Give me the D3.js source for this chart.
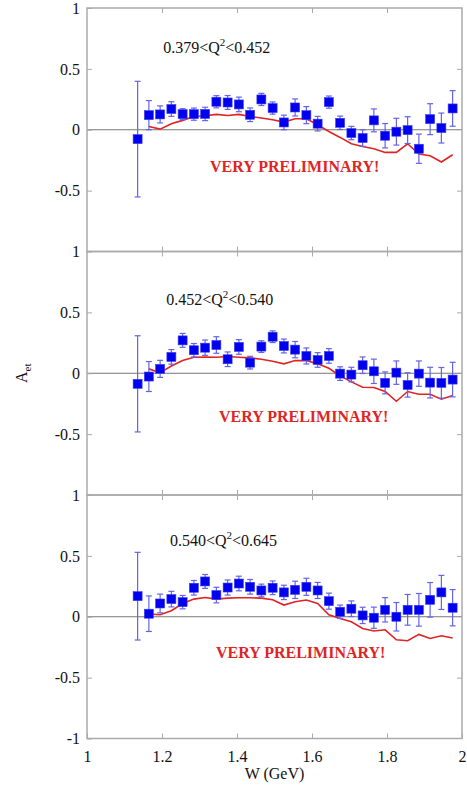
<!DOCTYPE html>
<html>
<head>
<meta charset="utf-8">
<script src="https://cdn.jsdelivr.net/npm/d3@7"></script>
<style>
  body { margin: 0; background: #fff; }
  text { font-family: "Liberation Serif", "DejaVu Serif", serif; }
</style>
</head>
<body>
<div id="chartDiv"></div>
<script>
// W bins (GeV)
var wBins = [1.135, 1.165, 1.195, 1.225, 1.255, 1.285, 1.315, 1.345, 1.375, 1.405,
             1.435, 1.465, 1.495, 1.525, 1.555, 1.585, 1.615, 1.645, 1.675, 1.705,
             1.735, 1.765, 1.795, 1.825, 1.855, 1.885, 1.915, 1.945, 1.975];
// model curve starts at the second bin
var wModel = wBins.slice(1);

var qLabels = ["0.379", "0.452", "0.540", "0.645"];

// panel 1 : 0.379 < Q2 < 0.452
var aet1 = [-0.077, 0.12, 0.126, 0.17, 0.128, 0.128, 0.13, 0.23, 0.224, 0.208,
            0.123, 0.249, 0.178, 0.06, 0.183, 0.12, 0.05, 0.227, 0.057, -0.027,
            -0.068, 0.077, -0.049, -0.016, -0.003, -0.156, 0.087, 0.014, 0.175];
var err1 = [0.475, 0.12, 0.07, 0.06, 0.045, 0.05, 0.055, 0.05, 0.057, 0.06,
            0.056, 0.05, 0.05, 0.06, 0.07, 0.07, 0.06, 0.05, 0.055, 0.055,
            0.068, 0.094, 0.1, 0.11, 0.11, 0.12, 0.127, 0.123, 0.146];
var model1 = [0.027, 0.005, 0.049, 0.077, 0.109, 0.115, 0.126, 0.117, 0.126, 0.109,
              0.096, 0.082, 0.063, 0.09, 0.09, 0.041, -0.014, -0.063, -0.115, -0.137,
              -0.156, -0.186, -0.186, -0.115, -0.2, -0.213, -0.265, -0.205];

// panel 2 : 0.452 < Q2 < 0.540
var aet2 = [-0.087, -0.027, 0.036, 0.134, 0.27, 0.189, 0.21, 0.232, 0.115, 0.216,
            0.087, 0.219, 0.3, 0.224, 0.194, 0.142, 0.109, 0.142, -0.003, -0.011,
            0.066, 0.016, -0.079, 0.005, -0.096, -0.003, -0.077, -0.079, -0.052];
var err2 = [0.395, 0.123, 0.07, 0.06, 0.057, 0.055, 0.063, 0.068, 0.06, 0.06,
            0.052, 0.048, 0.048, 0.057, 0.067, 0.066, 0.06, 0.06, 0.056, 0.06,
            0.068, 0.1, 0.09, 0.096, 0.1, 0.104, 0.126, 0.126, 0.142];
var model2 = [0.036, 0.005, 0.06, 0.104, 0.131, 0.134, 0.131, 0.137, 0.131, 0.126,
              0.115, 0.098, 0.077, 0.104, 0.104, 0.077, 0.041, -0.022, -0.071, -0.115,
              -0.117, -0.15, -0.23, -0.15, -0.172, -0.172, -0.213, -0.183];

// panel 3 : 0.540 < Q2 < 0.645
var aet3 = [0.169, 0.025, 0.109, 0.145, 0.12, 0.238, 0.29, 0.178, 0.24, 0.273,
            0.246, 0.216, 0.238, 0.2, 0.221, 0.246, 0.216, 0.128, 0.041, 0.066,
            0.011, -0.008, 0.057, 0.0, 0.057, 0.057, 0.139, 0.2, 0.074];
var err3 = [0.36, 0.146, 0.077, 0.064, 0.055, 0.06, 0.057, 0.064, 0.062, 0.06,
            0.06, 0.052, 0.056, 0.059, 0.071, 0.07, 0.066, 0.066, 0.055, 0.064,
            0.067, 0.087, 0.1, 0.117, 0.126, 0.134, 0.142, 0.14, 0.149];
var model3 = [0.022, 0.016, 0.049, 0.109, 0.145, 0.158, 0.145, 0.153, 0.156, 0.156,
              0.153, 0.139, 0.096, 0.123, 0.137, 0.109, 0.016, -0.014, -0.041, -0.096,
              -0.117, -0.107, -0.189, -0.197, -0.145, -0.178, -0.156, -0.175];

var xTicks = [1, 1.2, 1.4, 1.6, 1.8, 2];
var yTicks = [1, 0.5, 0, -0.5, -1];

var panels = [
  {aet: aet1, err: err1, model: model1, lo: qLabels[0], hi: qLabels[1], lab: [1.203, 0.63], warn: [1.328, -0.35]},
  {aet: aet2, err: err2, model: model2, lo: qLabels[1], hi: qLabels[2], lab: [1.211, 0.56], warn: [1.352, -0.40]},
  {aet: aet3, err: err3, model: model3, lo: qLabels[2], hi: qLabels[3], lab: [1.221, 0.58], warn: [1.344, -0.34]}
];

var width = 467, height = 793;
var left = 87, right = 462, top0 = 8, panelH = 243.5;

var svg = d3.select("#chartDiv")
  .append("svg")
    .attr("width", width)
    .attr("height", height);

var xScale = d3.scaleLinear().domain([1, 2]).range([left, right]);
var frameColor = "#aaa";

panels.forEach(function(p, k) {
  var y0 = top0 + k * panelH;
  var yScale = d3.scaleLinear().domain([-1, 1]).range([y0 + panelH, y0]);
  var g = svg.append("g");

  // zero line
  g.append("line")
    .attr("x1", left).attr("x2", right)
    .attr("y1", yScale(0)).attr("y2", yScale(0))
    .attr("stroke", "#777").attr("stroke-width", 1);

  // y axis labels + inward ticks
  var tv = k == 2 ? yTicks : yTicks.slice(0, 4);
  var yAx = g.append("g")
    .attr("transform", "translate(" + left + ",0)")
    .call(d3.axisLeft(yScale).tickValues(tv).tickSizeInner(-5).tickSizeOuter(0).tickPadding(7)
      .tickFormat(function(d) { return d == 0 ? "0" : String(d).replace("-", "-"); }));
  yAx.select(".domain").remove();
  yAx.selectAll("line").attr("stroke", frameColor);
  yAx.selectAll("text").attr("font-size", 16).attr("fill", "#111")
    .attr("font-family", "Liberation Serif, serif");

  var yAxR = g.append("g")
    .attr("transform", "translate(" + right + ",0)")
    .call(d3.axisRight(yScale).tickValues([0.5, -0.5]).tickSizeInner(-5).tickSizeOuter(0).tickFormat(""));
  yAxR.select(".domain").remove();
  yAxR.selectAll("line").attr("stroke", frameColor);

  // x ticks top and bottom, inward
  var xTop = g.append("g")
    .attr("transform", "translate(0," + y0 + ")")
    .call(d3.axisTop(xScale).tickValues(xTicks.slice(1, 5)).tickSizeInner(-5).tickSizeOuter(0).tickFormat(""));
  xTop.select(".domain").remove();
  xTop.selectAll("line").attr("stroke", frameColor);

  var xBot = g.append("g")
    .attr("transform", "translate(0," + (y0 + panelH) + ")")
    .call(d3.axisBottom(xScale).tickValues(k == 2 ? xTicks : xTicks.slice(1, 5))
      .tickSizeInner(-5).tickSizeOuter(0).tickPadding(12)
      .tickFormat(k == 2 ? function(d) { return String(+d.toFixed(1)); } : ""));
  xBot.select(".domain").remove();
  xBot.selectAll("line").attr("stroke", frameColor);
  xBot.selectAll("text").attr("font-size", 16).attr("fill", "#111")
    .attr("font-family", "Liberation Serif, serif");

  // frame
  g.append("rect")
    .attr("x", left).attr("y", y0)
    .attr("width", right - left).attr("height", panelH)
    .attr("fill", "none").attr("stroke", frameColor).attr("stroke-width", 1.5);

  // model curve
  var line = d3.line()
    .x(function(d, i) { return xScale(wModel[i]); })
    .y(function(d) { return yScale(d); });
  g.append("path")
    .datum(p.model)
    .attr("d", line)
    .attr("fill", "none")
    .attr("stroke", "#e02323")
    .attr("stroke-width", 1.6);

  // error bars
  var eb = g.append("g").attr("stroke", "#6464e6").attr("stroke-width", 1.2);
  var pts = p.aet.map(function(v, i) { return {w: wBins[i], v: v, e: p.err[i]}; });
  eb.selectAll(".bar").data(pts).enter().append("line")
    .attr("x1", function(d) { return xScale(d.w); })
    .attr("x2", function(d) { return xScale(d.w); })
    .attr("y1", function(d) { return yScale(d.v + d.e); })
    .attr("y2", function(d) { return yScale(d.v - d.e); });
  [1, -1].forEach(function(s) {
    eb.selectAll(".cap" + s).data(pts).enter().append("line")
      .attr("x1", function(d) { return xScale(d.w) - 3; })
      .attr("x2", function(d) { return xScale(d.w) + 3; })
      .attr("y1", function(d) { return yScale(d.v + s * d.e); })
      .attr("y2", function(d) { return yScale(d.v + s * d.e); });
  });

  // data squares
  g.selectAll(".sq").data(pts).enter().append("rect")
    .attr("x", function(d) { return xScale(d.w) - 4.5; })
    .attr("y", function(d) { return yScale(d.v) - 4.5; })
    .attr("width", 9).attr("height", 9)
    .attr("fill", "#0000ee")
    .attr("stroke", "#3b3bf0").attr("stroke-width", 0.6);

  // Q2 range label
  var t = g.append("text")
    .attr("x", xScale(p.lab[0])).attr("y", yScale(p.lab[1]))
    .attr("font-size", 16).attr("fill", "#111");
  t.append("tspan").text(p.lo + "<Q");
  t.append("tspan").attr("dy", -7).attr("font-size", 11).text("2");
  t.append("tspan").attr("dy", 7).text("<" + p.hi);

  g.append("text")
    .attr("x", xScale(p.warn[0])).attr("y", yScale(p.warn[1]))
    .attr("font-size", 16).attr("font-weight", "bold").attr("fill", "#dc2626")
    .text("VERY PRELIMINARY!");
});

// axis titles
svg.append("text")
  .attr("x", (left + right) / 2).attr("y", 779)
  .attr("text-anchor", "middle").attr("font-size", 16).attr("fill", "#111")
  .text("W (GeV)");

var yt = svg.append("text")
  .attr("transform", "translate(27," + (top0 + 1.5 * panelH) + ") rotate(-90)")
  .attr("text-anchor", "middle").attr("font-size", 16).attr("fill", "#111");
yt.append("tspan").text("A");
yt.append("tspan").attr("dy", 4).attr("font-size", 11).text("et");
</script>
</body>
</html>
